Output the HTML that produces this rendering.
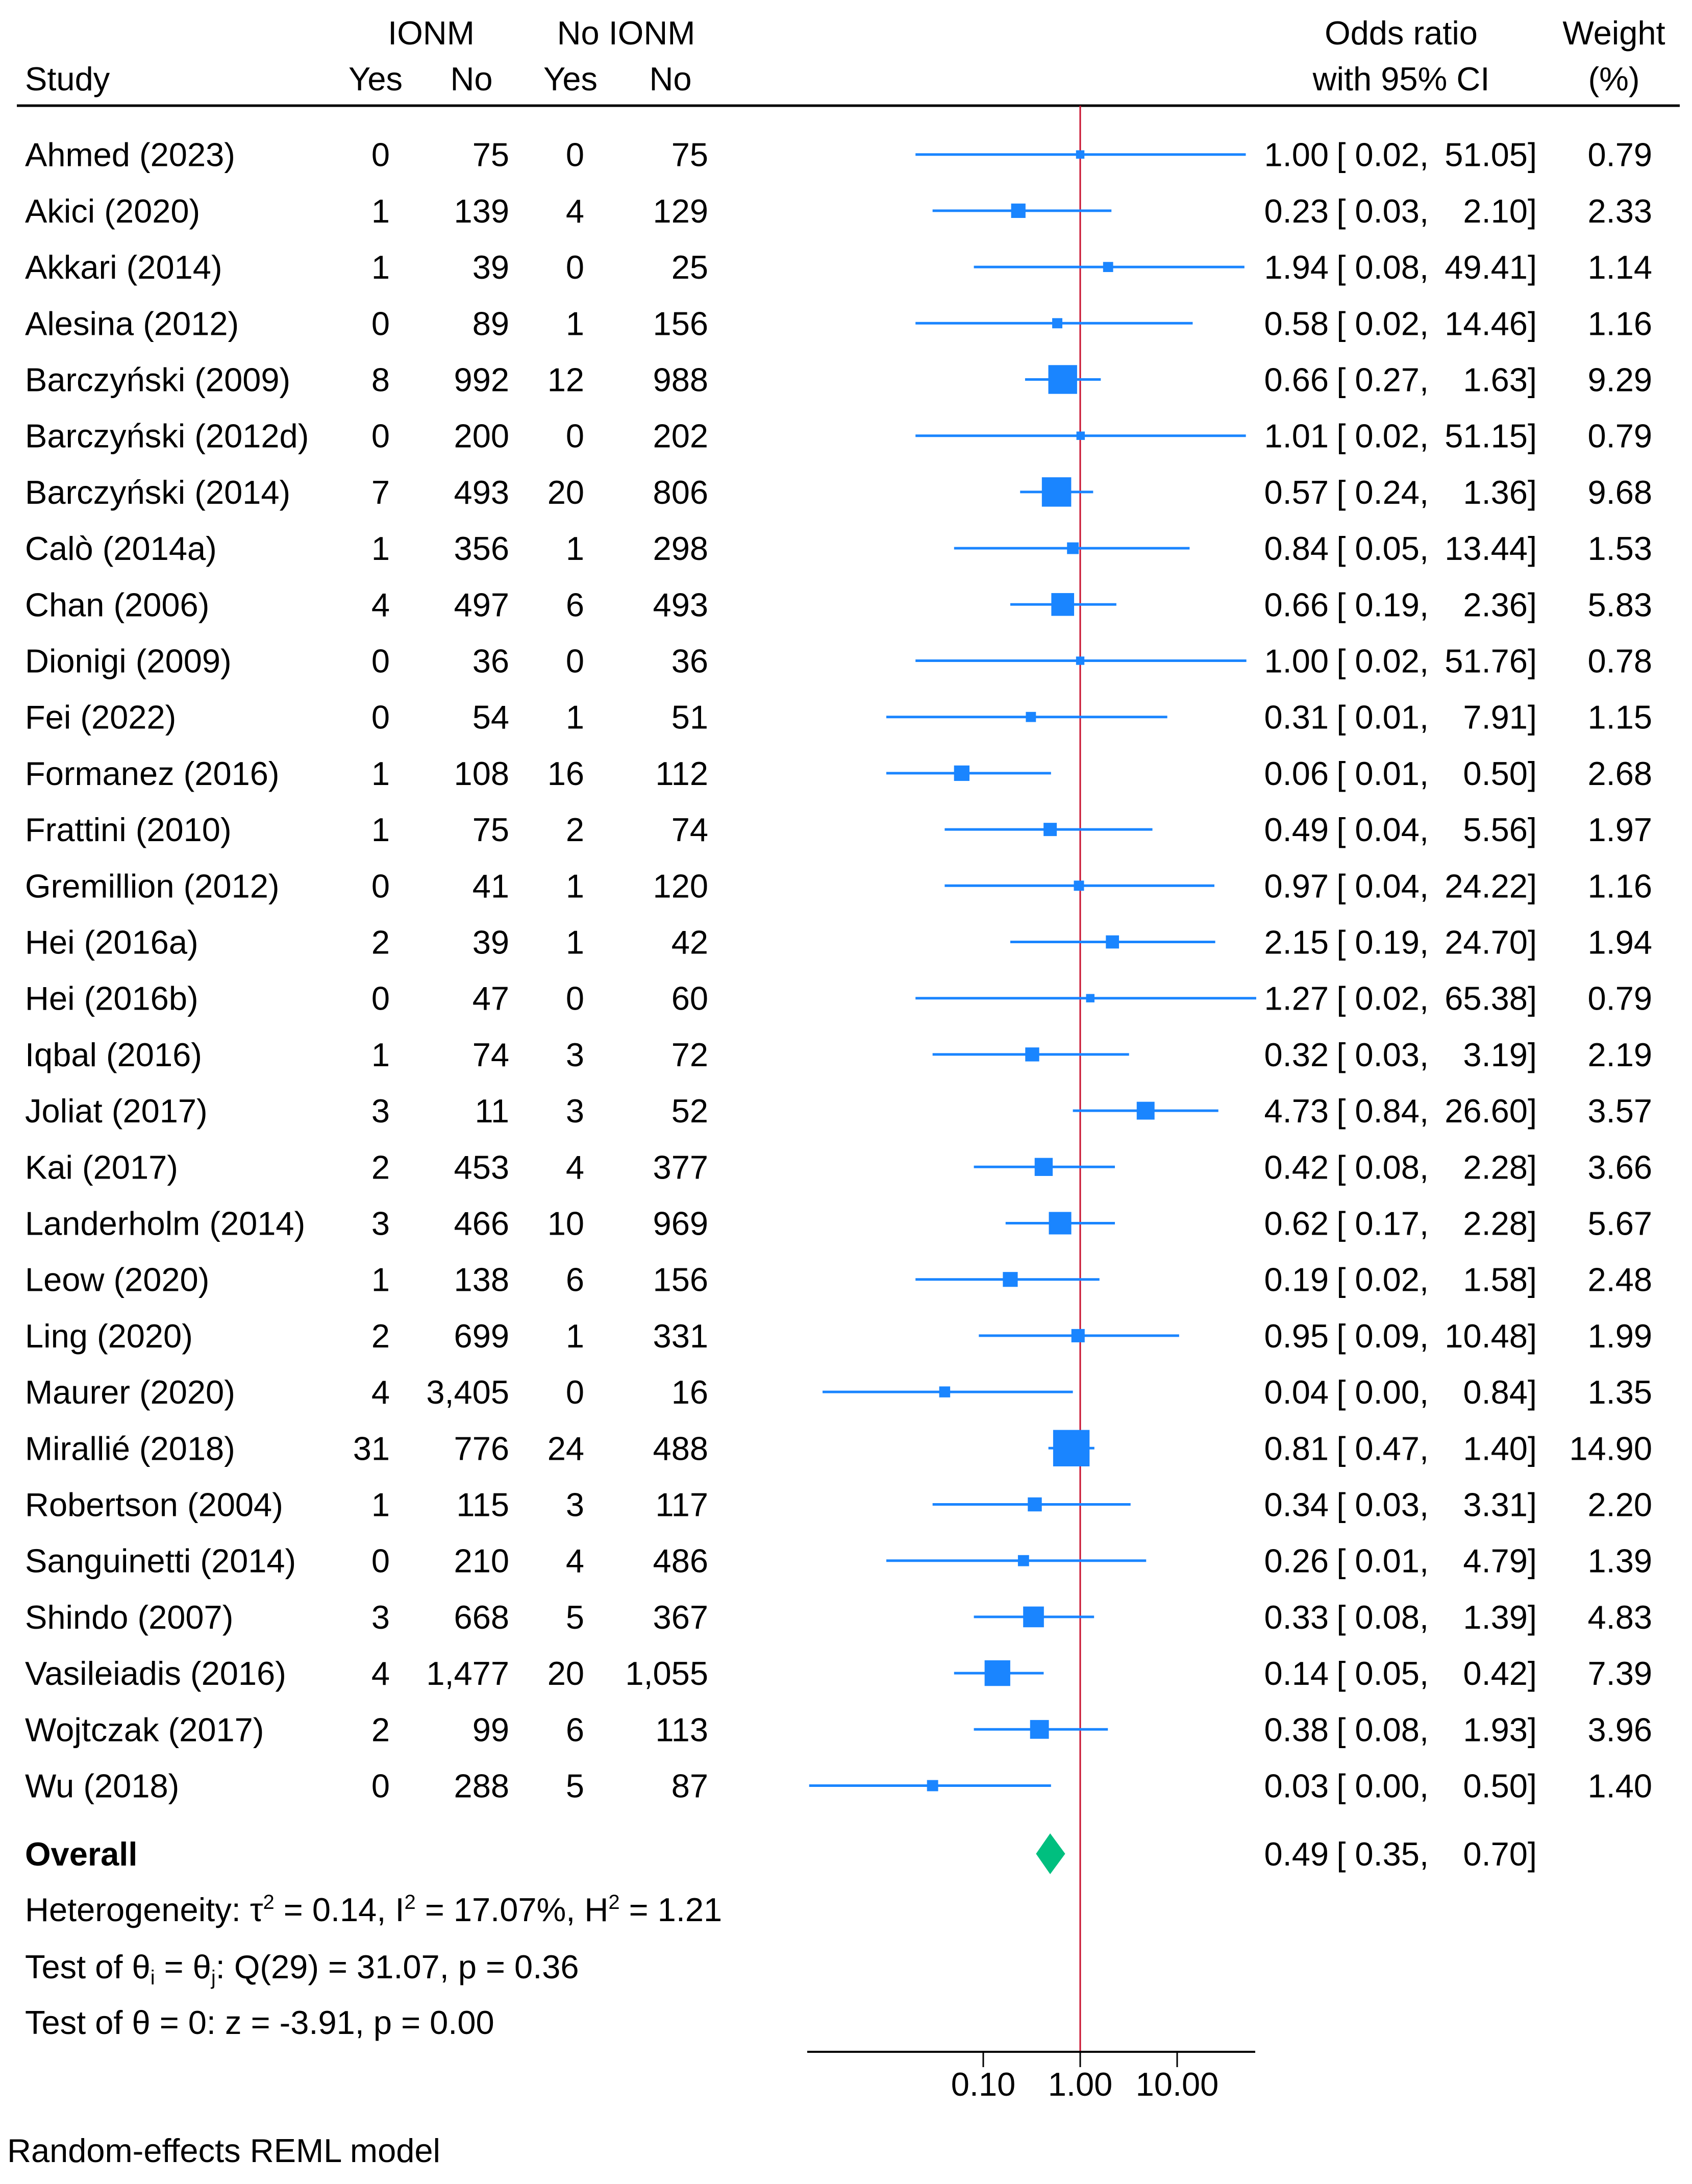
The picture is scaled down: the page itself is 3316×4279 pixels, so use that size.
<!DOCTYPE html>
<html><head><meta charset="utf-8">
<style>
html,body{margin:0;padding:0;background:#fff;}
svg{display:block;font-family:"Liberation Sans",Arial,sans-serif;}
text{fill:#000;font-size:65px;}
</style></head>
<body>
<svg id="chart" width="3316" height="4279" viewBox="0 0 3316 4279" xmlns="http://www.w3.org/2000/svg">
<g>
<text x="845" y="87" text-anchor="middle">IONM</text>
<text x="1227" y="87" text-anchor="middle">No IONM</text>
<text x="49" y="177">Study</text>
<text x="736" y="177" text-anchor="middle">Yes</text>
<text x="924" y="177" text-anchor="middle">No</text>
<text x="1118" y="177" text-anchor="middle">Yes</text>
<text x="1314" y="177" text-anchor="middle">No</text>
<text x="2746" y="87" text-anchor="middle">Odds ratio</text>
<text x="2746" y="177" text-anchor="middle">with 95% CI</text>
<text x="3163" y="87" text-anchor="middle">Weight</text>
<text x="3163" y="177" text-anchor="middle">(%)</text>
<line x1="33" y1="207" x2="3292" y2="207" stroke="#000" stroke-width="5"/>
</g>
<g id="rows"></g>
<g id="marks"></g>
<g>
<text x="49" y="3655" font-weight="bold">Overall</text>
<text x="49" y="3764">Heterogeneity: τ<tspan dy="-24" font-size="40">2</tspan><tspan dy="24"> = 0.14, I</tspan><tspan dy="-24" font-size="40">2</tspan><tspan dy="24"> = 17.07%, H</tspan><tspan dy="-24" font-size="40">2</tspan><tspan dy="24"> = 1.21</tspan></text>
<text x="49" y="3876">Test of θ<tspan dy="12" font-size="40">i</tspan><tspan dy="-12"> = θ</tspan><tspan dy="12" font-size="40">j</tspan><tspan dy="-12">: Q(29) = 31.07, p = 0.36</tspan></text>
<text x="49" y="3985">Test of θ = 0: z = -3.91, p = 0.00</text>
<text x="14" y="4236">Random-effects REML model</text>
</g>
</svg>
<script>
const studies = ["Ahmed (2023)","Akici (2020)","Akkari (2014)","Alesina (2012)","Barczyński (2009)","Barczyński (2012d)","Barczyński (2014)","Calò (2014a)","Chan (2006)","Dionigi (2009)","Fei (2022)","Formanez (2016)","Frattini (2010)","Gremillion (2012)","Hei (2016a)","Hei (2016b)","Iqbal (2016)","Joliat (2017)","Kai (2017)","Landerholm (2014)","Leow (2020)","Ling (2020)","Maurer (2020)","Mirallié (2018)","Robertson (2004)","Sanguinetti (2014)","Shindo (2007)","Vasileiadis (2016)","Wojtczak (2017)","Wu (2018)"];
const ionmYes = ["0","1","1","0","8","0","7","1","4","0","0","1","1","0","2","0","1","3","2","3","1","2","4","31","1","0","3","4","2","0"];
const ionmNo = ["75","139","39","89","992","200","493","356","497","36","54","108","75","41","39","47","74","11","453","466","138","699","3,405","776","115","210","668","1,477","99","288"];
const noYes = ["0","4","0","1","12","0","20","1","6","0","1","16","2","1","1","0","3","3","4","10","6","1","0","24","3","4","5","20","6","5"];
const noNo = ["75","129","25","156","988","202","806","298","493","36","51","112","74","120","42","60","72","52","377","969","156","331","16","488","117","486","367","1,055","113","87"];
const orEst = [1.00,0.23,1.94,0.58,0.66,1.01,0.57,0.84,0.66,1.00,0.31,0.06,0.49,0.97,2.15,1.27,0.32,4.73,0.42,0.62,0.19,0.95,0.04,0.81,0.34,0.26,0.33,0.14,0.38,0.03];
const ciLow = [0.02,0.03,0.08,0.02,0.27,0.02,0.24,0.05,0.19,0.02,0.01,0.01,0.04,0.04,0.19,0.02,0.03,0.84,0.08,0.17,0.02,0.09,0.0022,0.47,0.03,0.01,0.08,0.05,0.08,0.0016];
const ciHigh = [51.05,2.10,49.41,14.46,1.63,51.15,1.36,13.44,2.36,51.76,7.91,0.50,5.56,24.22,24.70,65.38,3.19,26.60,2.28,2.28,1.58,10.48,0.84,1.40,3.31,4.79,1.39,0.42,1.93,0.50];
const weights = [0.79,2.33,1.14,1.16,9.29,0.79,9.68,1.53,5.83,0.78,1.15,2.68,1.97,1.16,1.94,0.79,2.19,3.57,3.66,5.67,2.48,1.99,1.35,14.90,2.20,1.39,4.83,7.39,3.96,1.40];
const overall = [0.49,0.35,0.70];
const ticks = [0.1,1,10];
const tickLabels = ["0.10","1.00","10.00"];

const NS="http://www.w3.org/2000/svg";
const xScale = v => 2117 + 190*Math.log10(v);
const yRow = i => 302.7 + 110.2*i;
const rows=document.getElementById('rows'), marks=document.getElementById('marks');
function mk(tag,attrs,parent){const e=document.createElementNS(NS,tag);for(const k in attrs)e.setAttribute(k,attrs[k]);parent.appendChild(e);return e;}
function txt(s,x,y,anchor,parent){const t=mk('text',{x:x,y:y,'text-anchor':anchor},parent);t.textContent=s;return t;}
const fmt=v=>v<0.005?"0.00":v.toFixed(2);

const ref=mk('line',{x1:xScale(1),x2:xScale(1),y1:207,y2:4020,stroke:'#c8102e','stroke-width':3},marks);



studies.forEach((s,i)=>{
  const y=yRow(i), b=y+23;
  const g=mk('g',{},rows);
  
  
  const t1=txt(s,49,b,'start',g);
  
  
  const c1=txt(ionmYes[i],764,b,'end',g);
  
  
  const c2=txt(ionmNo[i],998,b,'end',g);
  
  
  const c3=txt(noYes[i],1145,b,'end',g);
  
  
  const c4=txt(noNo[i],1388,b,'end',g);
  
  
  const e1=txt(fmt(orEst[i]),2604,b,'end',g);
  
  
  const e2=txt('[ '+fmt(ciLow[i])+',',2800,b,'end',g);
  
  
  const e3=txt(fmt(ciHigh[i])+']',3012,b,'end',g);
  
  
  const w=txt(weights[i].toFixed(2),3238,b,'end',g);
  
  

  const ci=mk('line',{x1:xScale(ciLow[i]),x2:xScale(ciHigh[i]),y1:y,y2:y,stroke:'#1a85ff','stroke-width':5},marks);
  
  
  const sz=18.5*Math.sqrt(weights[i]);
  const sq=mk('rect',{x:xScale(orEst[i])-sz/2,y:y-sz/2,width:sz,height:sz,fill:'#1a85ff'},marks);
  
  
});

const yo=3632;
const d=mk('polygon',{points:`${xScale(overall[1])},${yo} ${xScale(overall[0])},${yo-40} ${xScale(overall[2])},${yo} ${xScale(overall[0])},${yo+40}`,fill:'#00bf7f'},marks);


const og=mk('g',{},rows);


const o1=txt(fmt(overall[0]),2604,yo+23,'end',og);


const o2=txt('[ '+fmt(overall[1])+',',2800,yo+23,'end',og);


const o3=txt(fmt(overall[2])+']',3012,yo+23,'end',og);



const ax=mk('line',{x1:1582,x2:2460,y1:4020,y2:4020,stroke:'#000','stroke-width':4},marks);


ticks.forEach((v,i)=>{
  const tk=mk('line',{x1:xScale(v),x2:xScale(v),y1:4020,y2:4050,stroke:'#000','stroke-width':3},marks);
  
  
  const tl=txt(tickLabels[i],xScale(v),4106,'middle',marks);
  
  
});
</script>
</body></html>
